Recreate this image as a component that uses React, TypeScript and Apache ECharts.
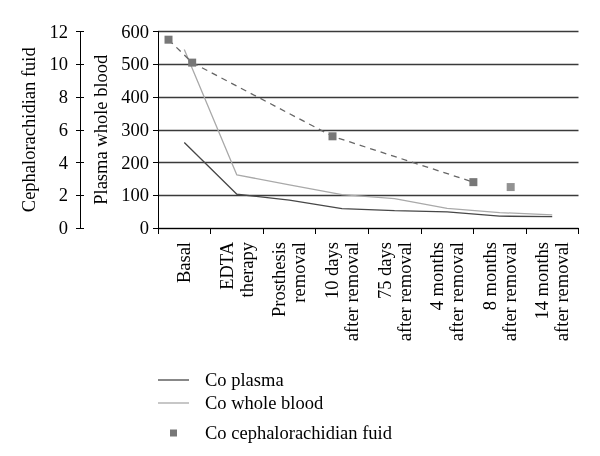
import React, { useEffect, useRef } from "react";
import * as echarts from "echarts";

const categories = [
  "Basal",
  "EDTA\ntherapy",
  "Prosthesis\nremoval",
  "10 days\nafter removal",
  "75 days\nafter removal",
  "4 months\nafter removal",
  "8 months\nafter removal",
  "14 months\nafter removal",
];
const plasma = [261, 103, 85, 59, 53, 49, 36, 35];
const wholeBlood = [545, 162, 132, 102, 90, 60, 47, 40];
// cephalorachidian fluid: positions on a hidden 0..8 axis spanning the categories
const fluidX = [0.2, 0.65, 3.32, 6.0, 6.71];
const fluidY = [11.5, 10.1, 5.6, 2.8, 2.5];
const fluidConnected = 4; // first four points are joined by the dashed line

const FONT = "Liberation Serif";
const FS = 18.5;

export default function App() {
  const ref = useRef<HTMLDivElement>(null);
  useEffect(() => {
    if (!ref.current) return;
    const chart = echarts.init(ref.current, null, { renderer: "svg" });
    const fluidPts = fluidX.map((x, i) => [x, fluidY[i]]);
    const txt = { fontFamily: FONT, fontSize: FS, color: "#000" };
    chart.setOption({
      animation: false,
      textStyle: { fontFamily: FONT },
      grid: { left: 158, right: 21.5, top: 31.5, bottom: 228, containLabel: false },
      legend: [
        {
          orient: "vertical",
          left: 158,
          top: 370,
          padding: 0,
          itemWidth: 31,
          itemHeight: 1.3,
          itemGap: 3,
          data: [
            { name: "Co plasma", icon: "rect" },
            { name: "Co whole blood", icon: "rect" },
          ],
          textStyle: { ...txt, lineHeight: 20, padding: [0, 0, 0, 11] },
        },
        {
          orient: "vertical",
          left: 170,
          top: 423,
          padding: 0,
          itemWidth: 7,
          itemHeight: 7,
          data: [{ name: "Co cephalorachidian fuid", icon: "rect" }],
          textStyle: { ...txt, lineHeight: 20, padding: [0, 0, 0, 23] },
        },
      ],
      xAxis: [
        {
          type: "category",
          data: categories,
          boundaryGap: true,
          axisLine: { show: true, lineStyle: { color: "#000", width: 1 } },
          axisTick: { show: true, length: 6, lineStyle: { color: "#000" } },
          axisLabel: {
            ...txt,
            interval: 0,
            rotate: 90,
            margin: 14,
            lineHeight: 20,
            padding: [0, 0, 6, 0],
          },
          splitLine: { show: false },
        },
        { type: "value", min: 0, max: 8, show: false },
      ],
      yAxis: [
        {
          type: "value",
          min: 0,
          max: 600,
          interval: 100,
          position: "left",
          name: "Plasma whole blood",
          nameLocation: "middle",
          nameRotate: 90,
          nameGap: 46,
          nameTextStyle: txt,
          axisLine: { show: true, lineStyle: { color: "#000" } },
          axisTick: { show: true, length: 5, lineStyle: { color: "#000" } },
          axisLabel: { ...txt, margin: 9 },
          splitLine: { show: true, lineStyle: { color: "#3a3a3a", width: 1.3 } },
        },
        {
          type: "value",
          min: 0,
          max: 12,
          interval: 2,
          position: "left",
          offset: 78,
          name: "Cephalorachidian fuid",
          nameLocation: "middle",
          nameRotate: 90,
          nameGap: 41,
          nameTextStyle: txt,
          axisLine: { show: true, lineStyle: { color: "#000" } },
          axisTick: { show: true, length: 4, lineStyle: { color: "#000" } },
          axisLabel: { ...txt, margin: 12 },
          splitLine: { show: false },
        },
        {
          type: "value",
          min: 0,
          max: 12,
          interval: 2,
          position: "left",
          offset: 78,
          axisLine: { show: false },
          axisTick: { show: true, inside: true, length: 4, lineStyle: { color: "#000" } },
          axisLabel: { show: false },
          splitLine: { show: false },
        },
      ],
      series: [
        {
          name: "Co plasma",
          type: "line",
          xAxisIndex: 0,
          yAxisIndex: 0,
          data: plasma,
          symbol: "none",
          color: "#474747",
          lineStyle: { color: "#474747", width: 1.3 },
        },
        {
          name: "Co whole blood",
          type: "line",
          xAxisIndex: 0,
          yAxisIndex: 0,
          data: wholeBlood,
          symbol: "none",
          color: "#a9a9a9",
          lineStyle: { color: "#a9a9a9", width: 1.3 },
        },
        {
          name: "Co cephalorachidian fuid",
          type: "line",
          xAxisIndex: 1,
          yAxisIndex: 1,
          data: fluidPts.slice(0, fluidConnected),
          symbol: "rect",
          symbolSize: 8,
          color: "#777777",
          itemStyle: { color: "#777777" },
          lineStyle: { color: "#666666", width: 1.3, type: [6, 5] },
          z: 3,
        },
        {
          name: "Co cephalorachidian fuid",
          type: "scatter",
          xAxisIndex: 1,
          yAxisIndex: 1,
          data: fluidPts.slice(fluidConnected),
          symbol: "rect",
          symbolSize: 8,
          itemStyle: { color: "#777777" },
          z: 3,
        },
      ],
    });
    return () => chart.dispose();
  }, []);
  return (
    <div
      ref={ref}
      style={{ position: "fixed", left: 0, top: 0, width: 600, height: 456 }}
    />
  );
}
